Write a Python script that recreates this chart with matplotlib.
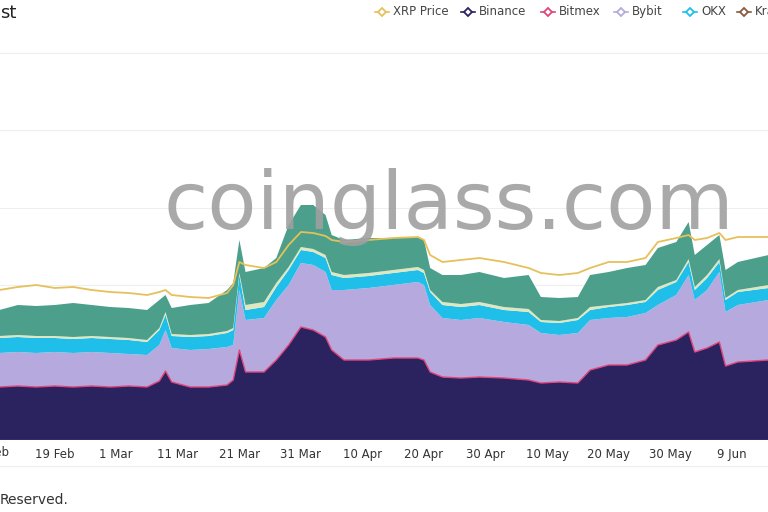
import numpy as np
import matplotlib
matplotlib.use("Agg")
import matplotlib.pyplot as plt
import matplotlib.dates as mdates
import matplotlib.transforms as mtrans
from matplotlib.lines import Line2D
import datetime as dt

dates = ["2025-02-10","2025-02-13","2025-02-16","2025-02-19","2025-02-22","2025-02-25","2025-02-28",
 "2025-03-03","2025-03-06","2025-03-08","2025-03-09","2025-03-10","2025-03-13","2025-03-16","2025-03-19",
 "2025-03-20","2025-03-21","2025-03-22","2025-03-25","2025-03-27","2025-03-29","2025-03-31","2025-04-02",
 "2025-04-04","2025-04-05","2025-04-07","2025-04-11","2025-04-15","2025-04-19","2025-04-20","2025-04-21",
 "2025-04-23","2025-04-26","2025-04-29","2025-05-03","2025-05-07","2025-05-09","2025-05-12","2025-05-15",
 "2025-05-17","2025-05-20","2025-05-23","2025-05-26","2025-05-28","2025-05-31","2025-06-02","2025-06-03",
 "2025-06-05","2025-06-07","2025-06-08","2025-06-10","2025-06-15"]

# cumulative stack levels (arbitrary OI units)
lvl_binance = [53,54,53,54,53,54,53,54,53,59,69,58,53,53,55,60,90,68,68,80,95,113,110,103,90,80,80,82,82,80,68,63,62,63,62,60,57,58,57,70,75,75,80,95,100,108,88,92,98,74,78,80]
lvl_bybit = [87,88,87,88,87,88,87,86,85,95,110,92,90,91,93,95,150,120,122,140,155,177,175,168,150,150,152,155,158,155,135,122,120,122,118,115,107,105,107,120,122,123,127,135,145,165,140,150,168,128,135,140]
lvl_okx = [102,103,102,102,101,102,101,100,98,110,125,104,103,104,107,110,165,130,133,153,170,190,188,182,165,162,164,167,170,167,148,135,133,135,130,128,118,117,120,130,133,135,138,150,158,178,150,162,178,140,148,152]
lvl_other = [104,105,104,104,103,104,103,102,100,112,128,106,105,106,109,112,167,135,138,157,173,193,191,185,168,165,167,170,173,170,150,138,136,138,133,131,120,119,122,133,135,137,140,153,160,181,153,165,181,142,150,155]
lvl_kraken = [130,135,134,135,137,135,133,132,130,140,145,132,135,137,150,157,200,168,172,182,215,235,235,225,205,200,202,202,203,200,172,165,165,168,162,165,143,142,143,165,168,172,175,192,198,218,185,195,205,170,178,185]
xrp_price = [150,153,155,152,153,150,148,147,145,148,150,145,143,142,147,155,178,175,172,178,195,208,207,204,200,198,200,202,203,200,185,178,180,182,178,172,167,165,167,172,178,178,182,198,202,205,200,202,207,200,203,203]

tick_labels = ["9 Feb","19 Feb","1 Mar","11 Mar","21 Mar","31 Mar","10 Apr","20 Apr","30 Apr","10 May","20 May","30 May","9 Jun"]

x = np.array([mdates.date2num(dt.date.fromisoformat(d)) for d in dates])

C_BIN = "#2b2360"; C_BMX = "#e0457b"; C_BYB = "#b6a9dd"; C_OKX = "#20bfea"
C_OTH = "#dfe7c0"; C_KRK = "#4c9f8a"; C_PRC = "#e6c05a"

fig = plt.figure(figsize=(7.68, 5.12), dpi=100)
ax = fig.add_axes([0, 72/512, 1, 388/512])

zero = np.zeros(len(x))
ax.fill_between(x, zero, lvl_binance, color=C_BIN, lw=0)
ax.fill_between(x, lvl_binance, lvl_bybit, color=C_BYB, lw=0)
ax.fill_between(x, lvl_bybit, lvl_okx, color=C_OKX, lw=0)
ax.fill_between(x, lvl_okx, lvl_other, color=C_OTH, lw=0)
ax.fill_between(x, lvl_other, lvl_kraken, color=C_KRK, lw=0)
ax.plot(x, lvl_binance, color=C_BMX, lw=1)
ax.plot(x, xrp_price, color=C_PRC, lw=1.3)

for k in range(1, 6):
    ax.axhline(77.5 * k, color="#eeeeee", lw=0.8, zorder=0)

ticks = [mdates.date2num(dt.date(2025,2,9)) + 10*i for i in range(len(tick_labels))]
ax.set_xticks(ticks)
ax.set_xticklabels(tick_labels, fontsize=8.5, color="#333333")
ax.tick_params(axis="x", length=0, pad=6)
ax.set_yticks([])
for s in ax.spines.values():
    s.set_visible(False)
ax.axhline(0, color="#cccccc", lw=0.8)
ax.set_xlim(x[0] + 0.1, mdates.date2num(dt.date(2025,6,14)) + 0.9)
ax.set_ylim(0, 388)

# first tick label falls just outside the visible area (only its end shows)
tr = mtrans.blended_transform_factory(ax.transData, ax.transAxes)
ax.text(ticks[0], -0.0155, tick_labels[0], transform=tr, fontsize=8.5, color="#333333",
        ha="center", va="top", clip_on=False)

ax.text(0.585, 0.60, "coinglass.com", transform=ax.transAxes, fontsize=58,
        color="#a0a0a0", alpha=0.9, ha="center", va="center", zorder=10)

fig.text(0.0, 0.975, "st", fontsize=13, color="#222222", va="center")
leg = [("XRP Price", C_PRC, 382), ("Binance", C_BIN, 468), ("Bitmex", C_BMX, 548),
       ("Bybit", C_BYB, 621), ("OKX", C_OKX, 690), ("Kraken", "#8b5a3c", 744)]
for name, col, px in leg:
    fig.add_artist(Line2D([(px-7)/768, (px+7)/768], [0.977, 0.977], color=col, lw=1.2))
    fig.add_artist(Line2D([px/768], [0.977], marker="D", color=col, markersize=4, markerfacecolor="white", markeredgewidth=1.3))
    fig.text((px+11)/768, 0.977, name, fontsize=8.5, color="#444444", va="center")

fig.add_artist(Line2D([0, 1], [1-466/512, 1-466/512], color="#f0f0f0", lw=1))
fig.text(0.0, 1-500/512, "Reserved.", fontsize=10, color="#333333", va="center")

fig.savefig("out.png", dpi=100)
